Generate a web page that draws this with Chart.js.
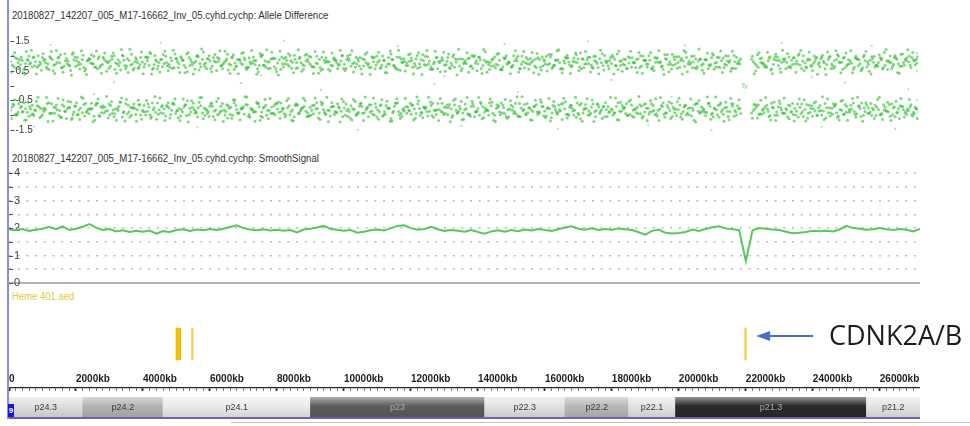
<!DOCTYPE html>
<html><head><meta charset="utf-8">
<script src="https://cdn.jsdelivr.net/npm/chart.js@4.4.1/dist/chart.umd.min.js"></script>
<style>
html,body{margin:0;padding:0;background:#fff;width:970px;height:426px;overflow:hidden;position:relative;font-family:'Liberation Sans',Arial,sans-serif}
.abs{position:absolute}
canvas{position:absolute;display:block}
.title{font-size:10px;color:#333;white-space:nowrap;transform-origin:0 0;transform:scaleX(0.965);line-height:12px}
</style></head><body>
<div class="abs" style="left:7px;top:0;width:2px;height:419px;background:#8c8cd2"></div>
<div class="abs title" style="left:12px;top:10px">20180827_142207_005_M17-16662_Inv_05.cyhd.cychp: Allele Difference</div>
<div class="abs title" style="left:12px;top:153px">20180827_142207_005_M17-16662_Inv_05.cyhd.cychp: SmoothSignal</div>
<div class="abs" style="left:12px;top:291px;font-size:10px;line-height:12px;color:#e2cc3a;transform-origin:0 0;transform:scaleX(0.95)">Heme 401.aed</div>
<canvas id="c1" width="911" height="118" style="left:9px;top:28px"></canvas>
<canvas id="c2" width="911" height="121" style="left:9px;top:165px"></canvas>
<canvas id="c3" width="911" height="95" style="left:9px;top:300px"></canvas>
<canvas id="c4" width="911" height="20" style="left:9px;top:397px"></canvas>
<div class="abs" style="left:9px;top:417px;width:911px;height:2px;background:#6a64b8"></div>
<div class="abs" style="left:231px;top:422px;width:739px;height:1px;background:#c4c4c4"></div>
<div class="abs" style="left:8px;top:404px;width:6px;height:13px;background:#1414e0;color:#fff;font-size:8px;line-height:13px;text-align:center;font-weight:bold">9</div>
<div class="abs" style="left:829px;top:321px;font-family:'Open Sans',sans-serif;font-size:27px;line-height:27px;color:#1c1c1c;white-space:nowrap">CDNK2A/B</div>
<script>
// ---------- data ----------
const kbMax = 27200;
const alleleStepKb = 100;           // spacing of allele-difference rows (kb)
const alleleTicks = [1.5, 1, 0.5, 0, -0.5, -1, -1.5];
const alleleLabels = [1.5, 0.5, -0.5, -1.5];
// allele difference, values x100; rows A,B,C,D start at 0,50,25,75 kb, one value each 100 kb
const upA = [82,64,91,71,55,88,77,97,62,73,85,58,93,69,79,104,66,74,51,87,95,72,61,83,76,99,57,68,90,80,65,101,74,53,86,92,70,59,78,96,63,84,108,71,56,89,75,67,94,60,81,98,69,47,87,77,102,64,72,91,58,83,95,66,79,106,70,54,88,76,93,62,73,85,57,99,68,81,90,64,76,55,92,71,84,103,60,78,67,89,97,63,74,52,86,80,69,94,58,83,72,100,65,77,91,56,88,70,62,96,79,61,85,73,107,66,54,90,82,68,93,75,59,87,71,98,64,80,57,84,69,95,76,62,89,50,78,92,67,101,74,58,86,81,65,97,70,55,91,77,63,84,99,72,60,88,79,66,94,53,82,71,105,68,87,59,76,93,64,80,90,57,73,96,69,85,61,78,102,67,75,89,54,83,70,98,62,77,91,66,86,73,58,95,80,64,104,71,56,88,78,92,65,74,99,60,83,69,87,57,94,76,63,85,72,100,58,81,77,null,null,null,89,75,61,93,70,84,56,97,68,79,91,62,86,74,103,59,77,90,65,82,71,96,57,88,73,64,99,80,60,87,76,93,67,55,84,72,98,63,78,91,69,85,58,102,74,66,89,81,95,70];
const upB = [70,93,58,86,75,100,63,81,68,95,77,54,89,72,97,61,84,70,106,65,79,88,56,92,74,63,98,71,83,59,90,76,67,103,57,85,73,94,62,80,96,69,55,87,78,64,99,72,58,91,74,86,61,95,70,82,53,89,76,101,66,79,92,57,84,73,97,64,88,71,60,94,77,85,68,104,62,80,91,56,87,74,96,65,79,58,92,71,83,99,63,76,89,55,94,81,67,86,72,102,59,84,75,97,66,90,78,61,93,70,85,100,64,73,88,57,96,79,68,82,62,91,74,105,69,83,56,94,77,87,71,60,98,80,66,89,75,93,58,84,97,68,79,54,90,73,86,63,101,76,69,92,57,81,95,72,84,61,88,67,99,75,64,86,78,56,93,70,82,104,63,89,74,96,59,81,91,68,77,85,97,66,83,72,58,94,79,88,61,100,73,86,64,92,76,55,89,81,69,98,62,84,95,71,80,57,90,74,87,66,103,78,61,93,70,85,59,96,73,null,null,null,81,68,92,76,63,98,72,86,57,90,79,65,94,83,70,101,60,87,75,96,64,82,71,99,58,88,77,93,67,84,55,92,74,97,63,86,79,70,95,61,83,100,72,89,65,78,94,69,87,76];
const upC = [45,112,78,96,38,85,120,67,101,52,89,74,115,41,93,60,108,83,35,97,70,118,49,86,104,63,91,42,110,77,99,55,87,122,68,44,106,81,58,114,73,95,39,102,66,88,117,50,84,107,61,93,43,111,79,56,98,124,64,90,47,105,82,69,116,53,94,76,40,109,87,62,119,71,46,100,84,57,113,92,36,97,74,108,59,89,121,48,103,80,65,115,42,96,78,54,110,86,69,101,51,92,118,63,83,39,106,75,98,57,113,70,44,95,88,61,120,79,49,104,85,66,111,37,99,73,55,116,82,94,48,107,68,90,123,58,84,45,102,76,96,41,114,71,87,60,109,53,93,81,64,118,46,100,77,55,112,89,38,97,72,105,59,86,121,43,95,80,67,110,50,91,115,74,62,99,40,108,83,57,103,69,117,48,88,76,94,61,112,42,85,101,56,79,119,66,92,47,106,73,98,39,113,82,60,90,124,52,87,70,109,63,95,44,101,78,116,58,84,null,null,null,99,49,111,75,62,93,40,106,86,120,57,97,71,45,108,83,64,114,51,92,78,103,37,96,67,118,80,55,110,74,43,99,87,60,115,48,91,69,104,56,122,79,65,94,42,107,85,100,112,88];
const upD = [101,58,87,43,115,72,94,39,81,108,63,98,50,119,76,45,92,67,111,84,56,103,37,89,74,117,61,96,48,85,110,42,79,100,65,123,53,88,71,40,97,113,59,82,46,105,78,62,120,91,44,86,107,68,39,99,75,114,57,83,95,51,118,73,90,41,104,66,86,112,54,80,97,38,109,70,121,59,93,47,117,64,85,102,43,78,96,55,106,72,41,99,61,114,83,49,90,76,120,57,88,104,46,73,95,66,112,38,81,100,59,86,43,117,69,97,52,91,77,108,40,102,63,85,119,55,74,96,47,113,82,58,104,36,91,75,111,64,98,50,87,122,45,79,67,106,54,94,71,40,101,83,57,115,74,92,43,109,62,88,49,97,70,118,56,84,103,41,93,78,111,60,87,46,99,75,120,53,82,95,39,107,68,90,58,116,77,44,101,86,63,112,50,94,81,37,105,72,98,59,85,119,47,76,100,64,89,42,110,71,55,96,117,61,83,48,102,74,91,null,null,null,40,104,79,66,113,53,88,97,45,82,109,60,94,73,119,51,86,68,100,38,91,77,114,57,84,105,43,96,71,118,62,89,50,103,80,39,99,65,87,112,54,78,95,44,106,69,121,60,83,98];
const lowA = [-84,-66,-97,-75,-58,-91,-80,-102,-69,-77,-88,-61,-95,-73,-83,-108,-70,-79,-56,-90,-99,-76,-64,-86,-81,-104,-60,-72,-93,-85,-68,-106,-78,-57,-89,-96,-74,-63,-82,-100,-67,-87,-111,-75,-59,-92,-79,-71,-98,-64,-85,-103,-73,-52,-90,-81,-107,-69,-76,-95,-62,-87,-99,-70,-83,-110,-74,-58,-92,-80,-97,-66,-77,-89,-61,-104,-72,-85,-94,-68,-80,-59,-96,-75,-88,-107,-64,-82,-71,-93,-101,-67,-78,-56,-90,-84,-73,-98,-62,-87,-76,-105,-69,-81,-95,-60,-92,-74,-66,-100,-83,-65,-89,-77,-112,-70,-58,-94,-86,-72,-97,-79,-63,-91,-75,-103,-68,-84,-61,-88,-73,-99,-80,-66,-93,-54,-82,-96,-71,-106,-78,-62,-90,-85,-69,-101,-74,-59,-95,-81,-67,-88,-104,-76,-64,-92,-83,-70,-98,-57,-86,-75,-109,-72,-91,-63,-80,-97,-68,-84,-94,-61,-77,-100,-73,-89,-65,-82,-106,-71,-79,-93,-58,-87,-74,-102,-66,-81,-95,-70,-90,-77,-62,-99,-84,-68,-108,-75,-60,-92,-82,-96,-69,-78,-103,-64,-87,-73,-91,-61,-98,-80,-67,-89,-76,-105,-62,-85,-79,null,null,null,-93,-79,-65,-97,-74,-88,-60,-101,-72,-83,-95,-66,-90,-78,-107,-63,-81,-94,-69,-86,-75,-100,-61,-92,-77,-68,-103,-84,-64,-91,-80,-97,-71,-59,-88,-76,-102,-67,-82,-95,-73,-89,-62,-106,-78,-70,-93,-85,-99,-74];
const lowB = [-74,-97,-62,-90,-79,-104,-67,-85,-72,-99,-81,-58,-93,-76,-101,-65,-88,-74,-110,-69,-83,-92,-60,-96,-78,-67,-102,-75,-87,-63,-94,-80,-71,-107,-61,-89,-77,-98,-66,-84,-100,-73,-59,-91,-82,-68,-103,-76,-62,-95,-78,-90,-65,-99,-74,-86,-57,-93,-80,-105,-70,-83,-96,-61,-88,-77,-101,-68,-92,-75,-64,-98,-81,-89,-72,-108,-66,-84,-95,-60,-91,-78,-100,-69,-83,-62,-96,-75,-87,-103,-67,-80,-93,-59,-98,-85,-71,-90,-76,-106,-63,-88,-79,-101,-70,-94,-82,-65,-97,-74,-89,-104,-68,-77,-92,-61,-100,-83,-72,-86,-66,-95,-78,-109,-73,-87,-60,-98,-81,-91,-75,-64,-102,-84,-70,-93,-79,-97,-62,-88,-101,-72,-83,-58,-94,-77,-90,-67,-105,-80,-73,-96,-61,-85,-99,-76,-88,-65,-92,-71,-103,-79,-68,-90,-82,-60,-97,-74,-86,-108,-67,-93,-78,-100,-63,-85,-95,-72,-81,-89,-101,-70,-87,-76,-62,-98,-83,-92,-65,-104,-77,-90,-68,-96,-80,-59,-93,-85,-73,-102,-66,-88,-99,-75,-84,-61,-94,-78,-91,-70,-107,-82,-65,-97,-74,-89,-63,-100,-77,null,null,null,-85,-72,-96,-80,-67,-102,-76,-90,-61,-94,-83,-69,-98,-87,-74,-105,-64,-91,-79,-100,-68,-86,-75,-103,-62,-92,-81,-97,-71,-88,-59,-96,-78,-101,-67,-90,-83,-74,-99,-65,-87,-104,-76,-93,-69,-82,-98,-73,-91,-80];
const lowC = [-112,-48,-91,-70,-118,-57,-99,-83,-40,-105,-76,-122,-62,-94,-44,-108,-87,-53,-115,-71,-98,-39,-103,-80,-60,-117,-46,-92,-74,-110,-55,-96,-85,-42,-120,-67,-101,-78,-50,-114,-89,-63,-106,-37,-97,-72,-119,-58,-84,-45,-109,-81,-66,-124,-52,-93,-75,-41,-102,-88,-59,-116,-43,-86,-100,-69,-111,-49,-95,-79,-38,-104,-82,-121,-61,-90,-47,-113,-73,-99,-56,-87,-107,-44,-118,-68,-94,-77,-51,-103,-84,-42,-110,-65,-96,-123,-58,-89,-72,-46,-101,-80,-117,-54,-91,-70,-39,-106,-86,-62,-114,-48,-97,-76,-120,-59,-88,-105,-43,-83,-67,-111,-52,-93,-79,-40,-102,-85,-119,-60,-95,-74,-108,-45,-87,-116,-63,-99,-53,-90,-41,-113,-78,-100,-57,-122,-69,-92,-47,-107,-84,-61,-104,-38,-96,-75,-118,-50,-89,-71,-109,-44,-93,-81,-66,-115,-55,-101,-77,-40,-98,-121,-64,-86,-49,-106,-73,-112,-58,-91,-83,-42,-117,-68,-95,-54,-103,-79,-37,-110,-62,-97,-88,-45,-119,-71,-92,-56,-105,-80,-43,-114,-66,-99,-76,-124,-51,-87,-102,-60,-94,-39,-108,-82,-57,-116,-70,-90,-48,null,null,null,-111,-65,-98,-84,-41,-106,-73,-119,-52,-93,-78,-113,-61,-100,-46,-89,-120,-67,-104,-55,-86,-38,-110,-75,-97,-63,-117,-50,-91,-81,-44,-107,-69,-121,-58,-95,-77,-102,-40,-115,-85,-64,-99,-53,-112,-72,-88,-47,-103,-79];
const lowD = [-63,-101,-45,-88,-117,-72,-96,-53,-109,-80,-40,-94,-120,-66,-85,-49,-112,-75,-98,-58,-115,-43,-91,-78,-123,-61,-104,-69,-37,-100,-83,-118,-56,-92,-47,-107,-74,-121,-64,-89,-51,-99,-82,-114,-42,-95,-68,-110,-59,-86,-119,-46,-102,-77,-60,-93,-41,-113,-84,-70,-105,-54,-89,-122,-65,-97,-48,-81,-116,-73,-39,-108,-90,-57,-118,-76,-101,-44,-94,-62,-111,-79,-52,-99,-120,-67,-87,-43,-106,-74,-96,-58,-115,-81,-40,-103,-71,-92,-124,-55,-85,-110,-47,-97,-63,-119,-76,-90,-42,-107,-68,-100,-53,-121,-87,-45,-112,-78,-94,-60,-117,-39,-102,-73,-89,-56,-108,-82,-44,-98,-66,-123,-50,-93,-79,-114,-41,-104,-70,-88,-57,-109,-84,-46,-118,-65,-99,-75,-111,-52,-95,-38,-106,-81,-61,-116,-72,-91,-48,-103,-77,-120,-54,-97,-86,-43,-110,-67,-100,-59,-113,-82,-45,-94,-122,-62,-88,-71,-105,-40,-92,-116,-57,-79,-101,-49,-108,-74,-96,-64,-119,-51,-85,-103,-41,-97,-68,-112,-80,-55,-107,-73,-93,-46,-118,-61,-90,-83,-39,-114,-76,-99,-58,-121,-87,-44,-104,-69,-95,null,null,null,-64,-110,-50,-92,-80,-117,-56,-101,-75,-42,-106,-89,-120,-63,-96,-48,-111,-78,-59,-102,-85,-115,-45,-93,-71,-108,-53,-98,-118,-67,-88,-40,-105,-76,-94,-61,-112,-47,-99,-83,-57,-119,-72,-90,-44,-107,-80,-65,-96,-113];
// scattered allele-difference points [kb, value]
const alleleOut = [[700,-1.39],[1200,1.38],[2500,-0.3],[3100,0.12],[4500,1.45],[5600,-1.42],[6900,0.08],[7500,0.35],[8200,1.52],[9300,-0.15],[10400,-1.5],[11600,1.33],[12700,0.05],[13000,0.32],[13500,-1.37],[14800,1.41],[15200,-0.22],[16400,-1.46],[17300,1.49],[18000,0.18],[19100,-1.33],[19800,-0.38],[20200,1.36],[21000,-1.52],[21930,0.06],[21950,-0.04],[21980,0.03],[22020,-0.08],[22050,-0.02],[23100,1.44],[24000,0.3],[24300,-1.4],[25000,0.1],[25800,1.35],[26500,-1.47],[26900,-0.12],[27150,1.1],[27150,0.5],[27150,-0.5],[27150,-1.1],[27170,0.9],[27170,-0.9]];

// smooth signal (copy number), one value each 200 kb from 0
const smoothStepKb = 200;
const smoothCN = [1.95,1.92,1.97,1.9,1.94,1.98,2.05,1.96,2.06,1.93, 1.98,2.05,2.15,2.02,1.93,1.97,1.88,1.92,1.86,1.9, 1.87,1.91,1.8,1.89,1.86,1.93,1.96,1.9,1.95,1.92, 1.97,1.93,1.98,2.04,2.1,2.0,1.95,1.92,1.96,1.91, 1.94,1.9,1.93,1.84,1.95,1.98,2.02,2.08,1.97,1.94, 1.9,1.93,1.83,1.87,1.92,1.95,1.91,2.0,2.08,2.1, 2.0,1.94,1.97,2.05,1.96,1.9,1.93,1.9,1.87,1.93, 1.86,1.8,1.88,1.92,1.87,1.93,1.89,1.95,1.91,1.97, 1.93,1.9,1.96,2.02,2.07,1.98,1.94,1.99,1.93,1.97, 1.94,1.99,1.96,1.93,1.85,1.76,1.9,1.95,1.83,1.8, 1.82,1.86,1.95,1.9,1.97,2.03,2.07,1.99,1.96,1.93, 0.8,1.92,2.0,1.98,1.95,1.93,1.87,1.81,1.83,1.86, 1.9,1.89,1.9,1.88,1.95,2.08,2.0,1.98,1.94,1.96, 2.0,1.96,1.93,1.97,1.94,1.88,1.97];
const smoothTicks = [0,0.5,1,1.5,2,2.5,3,3.5,4];
const smoothLabels = [0,1,2,3,4];

// aed regions (kb): JAK2, CD274, CDKN2A/B
const aedStart = [4985, 5450, 21967];
const aedEnd   = [5129, 5470, 22009];
const aedColors = ['#f2c000', '#f5cb4e', '#f4c84a'];

// ideogram chr9 p-arm bands (kb)
const bandNames  = ['p24.3','p24.2','p24.1','p23','p22.3','p22.2','p22.1','p21.3','p21.2'];
const bandStarts = [0, 2200, 4600, 9000, 14200, 16600, 18500, 19900, 25600];
const bandEnds   = [2200, 4600, 9000, 14200, 16600, 18500, 19900, 25600, 28000];
const bandColors = ['#dedede','#b3b3b3','#ebebeb','#5c5c5c','#e2e2e2','#b8b8b8','#e4e4e4','#2a2a2a','#e4e4e4'];
const bandDark   = [false,false,false,true,false,false,false,true,false];

// ---------- helpers ----------
const FONT = "'Liberation Sans', Arial, Helvetica, sans-serif";
function toPts(arr, offset){ const o=[]; arr.forEach((v,i)=>{ if(v!==null) o.push({x:i*alleleStepKb+offset, y:v/100}); }); return o; }
function mix(hex, t){ const n=parseInt(hex.slice(1),16); let r=n>>16,g=(n>>8)&255,b=n&255;
  const tgt = t>=0?255:0; const a=Math.abs(t); r=Math.round(r+(tgt-r)*a); g=Math.round(g+(tgt-g)*a); b=Math.round(b+(tgt-b)*a); return `rgb(${r},${g},${b})`; }
const zeroFit = (h)=> function(s){ if(s.isHorizontal()){ s.height=h; } else { s.width=h; } s.paddingTop=0; s.paddingBottom=0; s.paddingLeft=0; s.paddingRight=0; };

const tickDash = { id:'tickDash', afterDraw(chart, args, o){
  const s = chart.scales.y, ctx = chart.ctx, L = chart.chartArea.left;
  ctx.save(); ctx.strokeStyle = o.color; ctx.lineWidth = 1;
  o.values.forEach(v=>{ const y = Math.round(s.getPixelForValue(v))+0.5; ctx.beginPath(); ctx.moveTo(L, y); ctx.lineTo(L+o.len, y); ctx.stroke(); });
  ctx.restore(); } };

const common = { responsive:false, animation:false, events:[], devicePixelRatio:1, layout:{padding:0} };
Chart.defaults.font.family = FONT;

// ---------- chart 1: allele difference ----------
const dot = 'rgba(40,190,40,0.6)';
const rowOffsets = [0, 50, 25, 75];
new Chart(document.getElementById('c1'), {
  type:'scatter',
  data:{ datasets:[
    {data: toPts(upA,rowOffsets[0]), backgroundColor: dot},
    {data: toPts(upB,rowOffsets[1]), backgroundColor: dot},
    {data: toPts(upC,rowOffsets[2]), backgroundColor: dot},
    {data: toPts(upD,rowOffsets[3]), backgroundColor: dot},
    {data: toPts(lowA,rowOffsets[0]), backgroundColor: dot},
    {data: toPts(lowB,rowOffsets[1]), backgroundColor: dot},
    {data: toPts(lowC,rowOffsets[2]), backgroundColor: dot},
    {data: toPts(lowD,rowOffsets[3]), backgroundColor: dot},
    {data: alleleOut.map(p=>({x:p[0], y:p[1]})), backgroundColor:'rgba(60,185,60,0.4)', pointRadius:1.1}
  ]},
  plugins:[tickDash],
  options:{ ...common,
    elements:{ point:{ radius:1.5, borderWidth:0, hoverRadius:0 } },
    plugins:{ legend:{display:false}, tooltip:{enabled:false}, tickDash:{values:alleleTicks, len:4, color:'#555'} },
    scales:{
      x:{ type:'linear', min:0, max:kbMax, display:false },
      y:{ min:-2, max:1.9, afterFit: zeroFit(0), grid:{display:false}, border:{display:false},
          ticks:{ stepSize:0.5, includeBounds:false, autoSkip:false, mirror:true, padding:5, color:'#3a3a3a', font:{size:10},
                  callback:(v)=> alleleLabels.includes(v) ? String(v) : '' } }
    } }
});

// ---------- chart 2: smooth signal ----------
new Chart(document.getElementById('c2'), {
  type:'scatter',
  data:{ datasets:[ { data: smoothCN.map((v,i)=>({x:i*smoothStepKb, y:v})), showLine:true, borderColor:'rgb(88,200,88)', borderWidth:2, pointRadius:0, tension:0 } ] },
  plugins:[tickDash],
  options:{ ...common,
    plugins:{ legend:{display:false}, tooltip:{enabled:false}, tickDash:{values:smoothTicks, len:4, color:'#555'} },
    scales:{
      x:{ type:'linear', min:0, max:kbMax, position:'bottom', afterFit: zeroFit(3), grid:{display:false},
          border:{display:true, color:'#b4b4b4', width:2}, ticks:{display:false} },
      y:{ min:0, max:4.3, afterFit: zeroFit(0), border:{display:false, dash:[2,6.7]},
          grid:{ drawTicks:false, lineWidth:1.6, color:(c)=> (c.tick && c.tick.value>0 && c.tick.value<=4) ? '#b9b9b9' : 'rgba(0,0,0,0)' },
          ticks:{ stepSize:0.5, includeBounds:false, autoSkip:false, mirror:true, padding:5, color:'#444', font:{size:11},
                  callback:(v)=> smoothLabels.includes(v) ? String(v) : '' } }
    } }
});

// ---------- chart 3: aed regions + kb ruler ----------
const arrowPlugin = { id:'arrow', afterDraw(chart, args, o){
  const xs = chart.scales.x, ctx = chart.ctx;
  const el = chart.getDatasetMeta(0).data[o.index];
  const y = el.y + o.dy, tip = xs.getPixelForValue(aedEnd[o.index]) + o.gap, end = tip + o.len;
  ctx.save(); ctx.strokeStyle = o.color; ctx.fillStyle = o.color; ctx.lineWidth = 2;
  ctx.beginPath(); ctx.moveTo(tip+8, y); ctx.lineTo(end, y); ctx.stroke();
  ctx.beginPath(); ctx.moveTo(tip, y); ctx.lineTo(tip+14, y-5); ctx.lineTo(tip+14, y+5); ctx.closePath(); ctx.fill();
  ctx.restore(); } };
new Chart(document.getElementById('c3'), {
  type:'bar',
  data:{ labels:['aed'], datasets:[ { data: aedStart.map((s,i)=>({x:[s, aedEnd[i]], y:'aed'})), backgroundColor: aedColors,
        borderWidth:0, borderSkipped:false, barThickness:32, minBarLength:1.6 } ] },
  plugins:[arrowPlugin],
  options:{ ...common, indexAxis:'y',
    plugins:{ legend:{display:false}, tooltip:{enabled:false}, arrow:{index:2, dy:-8, gap:10, len:57, color:'#4472c4'} },
    scales:{
      x:{ type:'linear', min:0, max:kbMax, position:'bottom', afterFit: zeroFit(7),
          border:{display:true, color:'#2a2a2a', width:1.3},
          grid:{ drawOnChartArea:false, drawTicks:true, tickLength:3,
                 tickColor:(c)=> (c.tick && c.tick.value % 2000 === 0) ? '#222' : '#777',
                 tickWidth:(c)=> (c.tick && c.tick.value % 2000 === 0) ? 1.8 : 1 },
          ticks:{ stepSize:200, autoSkip:false, maxRotation:0, minRotation:0, includeBounds:false, mirror:true, padding:3, align:'start',
                  color:'#1e1e1e', font:{size:10, weight:'bold'},
                  callback:(v)=> v % 2000 === 0 ? (v===0 ? '0' : v + 'kb') : '' } },
      y:{ type:'category', display:false }
    } }
});

// ---------- chart 4: ideogram ----------
const bandLabelPlugin = { id:'bandLabels', afterDatasetsDraw(chart){
  const xs = chart.scales.x, ca = chart.chartArea, ctx = chart.ctx;
  ctx.save(); ctx.font = '9px ' + FONT; ctx.textAlign = 'center'; ctx.textBaseline = 'middle';
  bandNames.forEach((n,i)=>{ const a = Math.max(bandStarts[i], xs.min), b = Math.min(bandEnds[i], xs.max); if (b <= a) return;
    const cx = (xs.getPixelForValue(a) + xs.getPixelForValue(b)) / 2;
    ctx.fillStyle = bandDark[i] ? '#a8a8a8' : '#3c3c3c'; ctx.fillText(n, cx, (ca.top + ca.bottom)/2 + 0.5); });
  ctx.restore(); } };
function bandFill(c){ const base = bandColors[c.dataIndex]; const ch = c.chart, ca = ch.chartArea; if (!ca) return base;
  const g = ch.ctx.createLinearGradient(0, ca.top, 0, ca.bottom);
  g.addColorStop(0, mix(base, 0.5)); g.addColorStop(0.45, base); g.addColorStop(1, mix(base, -0.1)); return g; }
new Chart(document.getElementById('c4'), {
  type:'bar',
  data:{ labels:['chr9'], datasets:[ { data: bandStarts.map((s,i)=>({x:[s, bandEnds[i]], y:'chr9'})), backgroundColor: bandFill,
        borderWidth:0, borderSkipped:false, barThickness:20 } ] },
  plugins:[bandLabelPlugin],
  options:{ ...common, indexAxis:'y',
    plugins:{ legend:{display:false}, tooltip:{enabled:false} },
    scales:{ x:{ type:'linear', min:0, max:kbMax, display:false }, y:{ type:'category', display:false } } }
});
</script>
</body></html>
